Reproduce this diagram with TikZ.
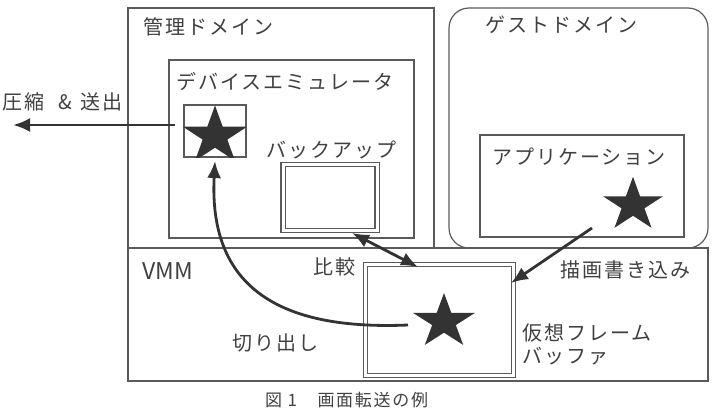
\documentclass[tikz,border=0pt]{standalone}
\usepackage{fontspec}
\setmainfont{Noto Sans CJK JP}[LetterSpace=10]
\newfontfamily\latinfont{Noto Sans CJK JP}
\usetikzlibrary{arrows.meta}
\definecolor{boxcol}{HTML}{5A5A5A}
\definecolor{inkcol}{HTML}{333333}
\definecolor{txtcol}{HTML}{404040}
\newcommand\drawstarshape[4]{% cx, cy, R, yscale
  \fill[inkcol, shift={(#1,#2)}, yscale=#4]
    (90:#3pt) -- (126:0.382*#3pt) -- (162:#3pt) -- (198:0.382*#3pt) --
    (234:#3pt) -- (270:0.382*#3pt) -- (306:#3pt) -- (342:0.382*#3pt) --
    (18:#3pt) -- (54:0.382*#3pt) -- cycle;}
\tikzset{
  box/.style={draw=boxcol, line width=1.2pt, rectangle, inner sep=0pt},
  dbox/.style={box, double=white, double distance=3pt, line width=1.1pt},
  lbl/.style={anchor=west, inner sep=0pt, text=txtcol, font=\fontsize{20}{20}\selectfont},
  arr/.style={draw=inkcol, line width=2.8pt, -{Latex[length=17pt,width=14pt]}},
  darr/.style={draw=inkcol, line width=2.8pt, {Latex[length=17pt,width=14pt]}-{Latex[length=17pt,width=14pt]}},
}
\begin{document}
\begin{tikzpicture}[x=1pt,y=-1pt]
\useasboundingbox (0,0) rectangle (718,408);
% boxes
\node[box, minimum width=306pt, minimum height=240pt] (mgmt) at (281,128) {};
\node[box, rounded corners=20pt, minimum width=259pt, minimum height=240pt] (guest) at (578.5,128) {};
\node[box, minimum width=580pt, minimum height=133pt] (vmm) at (418,314.5) {};
\node[box, minimum width=245pt, minimum height=178pt] (emu) at (291.5,149) {};
\node[box, minimum width=62pt, minimum height=52pt] (sbox) at (215,131) {};
\node[dbox, minimum width=94pt, minimum height=66pt] (backup) at (330,197.5) {};
\node[box, minimum width=204pt, minimum height=102pt] (app) at (582,186) {};
\node[dbox, minimum width=148pt, minimum height=110.5pt] (fb) at (439.5,320) {};
% stars
\begin{scope}
  \clip (sbox.south west) rectangle (sbox.north east);
  \drawstarshape{215}{136}{34}{0.9}
\end{scope}
\drawstarshape{633}{205}{31.5}{0.895}
\drawstarshape{444}{321.7}{32.6}{0.88}
% labels
\node[lbl] (t1) at (143,27) {管理ドメイン};
\node[lbl] (t2) at (485,25) {ゲストドメイン};
\node[lbl] (t3) at (176,82) {デバイスエミュレータ};
\node[lbl] (t4a) at (2,102) {圧縮};
\node[lbl] (t4b) at (58,102) {\&};
\node[lbl] (t4c) at (80,102) {送出};
\node[lbl] (t5) at (266,150) {バックアップ};
\node[lbl] (t6) at (492,157) {アプリケーション};
\node[lbl, font=\latinfont\fontsize{23}{23}\selectfont] (t7) at (142,271) {VMM};
\node[lbl] (t8) at (313,267) {比較};
\node[lbl] (t9) at (560,270) {描画書き込み};
\node[lbl] (t10) at (522,333) {仮想フレーム};
\node[lbl] (t11) at (522,356) {バッファ};
\node[lbl] (t12) at (232,343) {切り出し};
\node[anchor=base west, inner sep=0pt, text=txtcol, font=\fontsize{17}{17}\selectfont] (cap) at (265,406) {図 1　画面転送の例};
% connector end points
\coordinate (cs) at (175,125);
\coordinate (ce) at (13,125);
\coordinate (ws) at (592,228);
\coordinate (we) at (511,283);
\coordinate (bs) at (352,233);
\coordinate (be) at (418,267);
\coordinate (ks) at (408,325);
\coordinate (ke) at (215,161);
% connectors
\draw[arr] (cs) -- (ce);
\draw[arr] (ws) -- (we);
\draw[darr] (bs) -- (be);
\draw[arr] (ks) .. controls (290,330) and (208,295) .. (ke);
\end{tikzpicture}
\end{document}
